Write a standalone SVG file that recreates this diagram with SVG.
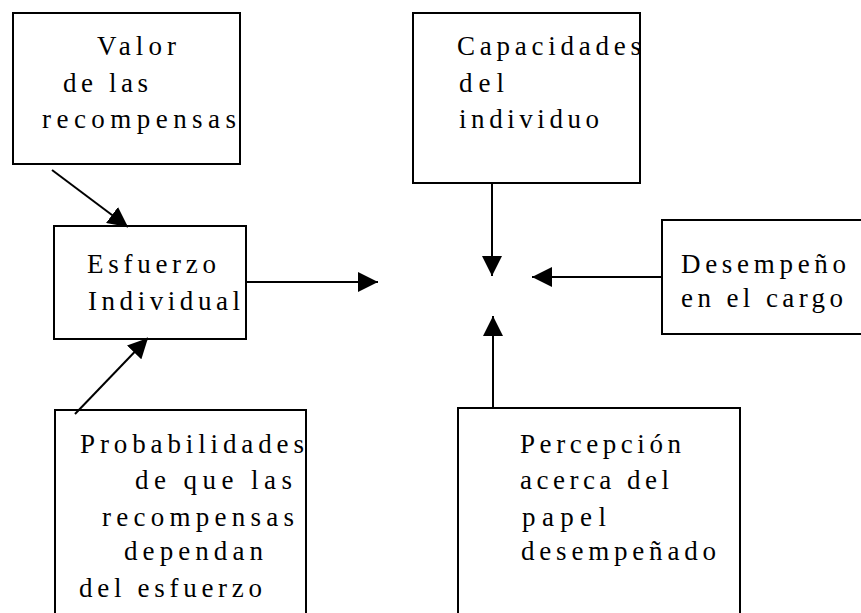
<svg xmlns="http://www.w3.org/2000/svg" width="861" height="613" viewBox="0 0 861 613">
<style>
.box{fill:#fff;stroke:#000;stroke-width:2}
.t{font-family:"Liberation Serif","Times New Roman","DejaVu Serif",serif;font-size:27px;fill:#000}
.c{stroke:#000;stroke-width:2;fill:none;marker-end:url(#ah)}
</style>
<defs>
<marker id="ah" markerUnits="userSpaceOnUse" markerWidth="20" markerHeight="20" viewBox="0 0 20 20" refX="20" refY="10" orient="auto">
<path d="M0,0 L20,10 L0,20 z" fill="#000"/>
</marker>
</defs>
<rect width="861" height="613" fill="#fff"/>
<g id="valor">
<rect class="box" x="13" y="13" width="227" height="151"/>
<text class="t" x="97" y="55" textLength="79" lengthAdjust="spacing">Valor</text>
<text class="t" x="63" y="92" textLength="85" lengthAdjust="spacing">de las</text>
<text class="t" x="42" y="128" textLength="194" lengthAdjust="spacing">recompensas</text>
</g>
<g id="esfuerzo">
<rect class="box" x="54" y="226" width="192" height="113"/>
<text class="t" x="87" y="273" textLength="129" lengthAdjust="spacing">Esfuerzo</text>
<text class="t" x="88" y="310" textLength="152" lengthAdjust="spacing">Individual</text>
</g>
<g id="probabilidades">
<rect class="box" x="55" y="410" width="251" height="215"/>
<text class="t" x="80" y="453" textLength="224" lengthAdjust="spacing">Probabilidades</text>
<text class="t" x="135" y="489" textLength="157" lengthAdjust="spacing">de que las</text>
<text class="t" x="102" y="526" textLength="192" lengthAdjust="spacing">recompensas</text>
<text class="t" x="124" y="560" textLength="139" lengthAdjust="spacing">dependan</text>
<text class="t" x="79" y="597" textLength="183" lengthAdjust="spacing">del esfuerzo</text>
</g>
<g id="capacidades">
<rect class="box" x="413" y="13" width="227" height="170"/>
<text class="t" x="457" y="55" textLength="184" lengthAdjust="spacing">Capacidades</text>
<text class="t" x="459" y="92" textLength="45" lengthAdjust="spacing">del</text>
<text class="t" x="459" y="128" textLength="140" lengthAdjust="spacing">individuo</text>
</g>
<g id="desempeno">
<rect class="box" x="662" y="220" width="210" height="114"/>
<text class="t" x="681" y="273" textLength="165" lengthAdjust="spacing">Desempeño</text>
<text class="t" x="681" y="307" textLength="162" lengthAdjust="spacing">en el cargo</text>
</g>
<g id="percepcion">
<rect class="box" x="458" y="408" width="282" height="217"/>
<text class="t" x="520" y="453" textLength="161" lengthAdjust="spacing">Percepción</text>
<text class="t" x="520" y="489" textLength="149" lengthAdjust="spacing">acerca del</text>
<text class="t" x="522" y="526" textLength="84" lengthAdjust="spacing">papel</text>
<text class="t" x="521" y="560" textLength="195" lengthAdjust="spacing">desempeñado</text>
</g>
<g id="connectors">
<line class="c" x1="52" y1="170" x2="128" y2="227"/>
<line class="c" x1="75" y1="414" x2="148" y2="338"/>
<line class="c" x1="246" y1="282" x2="378" y2="282"/>
<line class="c" x1="492" y1="183" x2="492" y2="276"/>
<line class="c" x1="662" y1="277" x2="532" y2="277"/>
<line class="c" x1="493" y1="408" x2="493" y2="316"/>
</g>
</svg>
